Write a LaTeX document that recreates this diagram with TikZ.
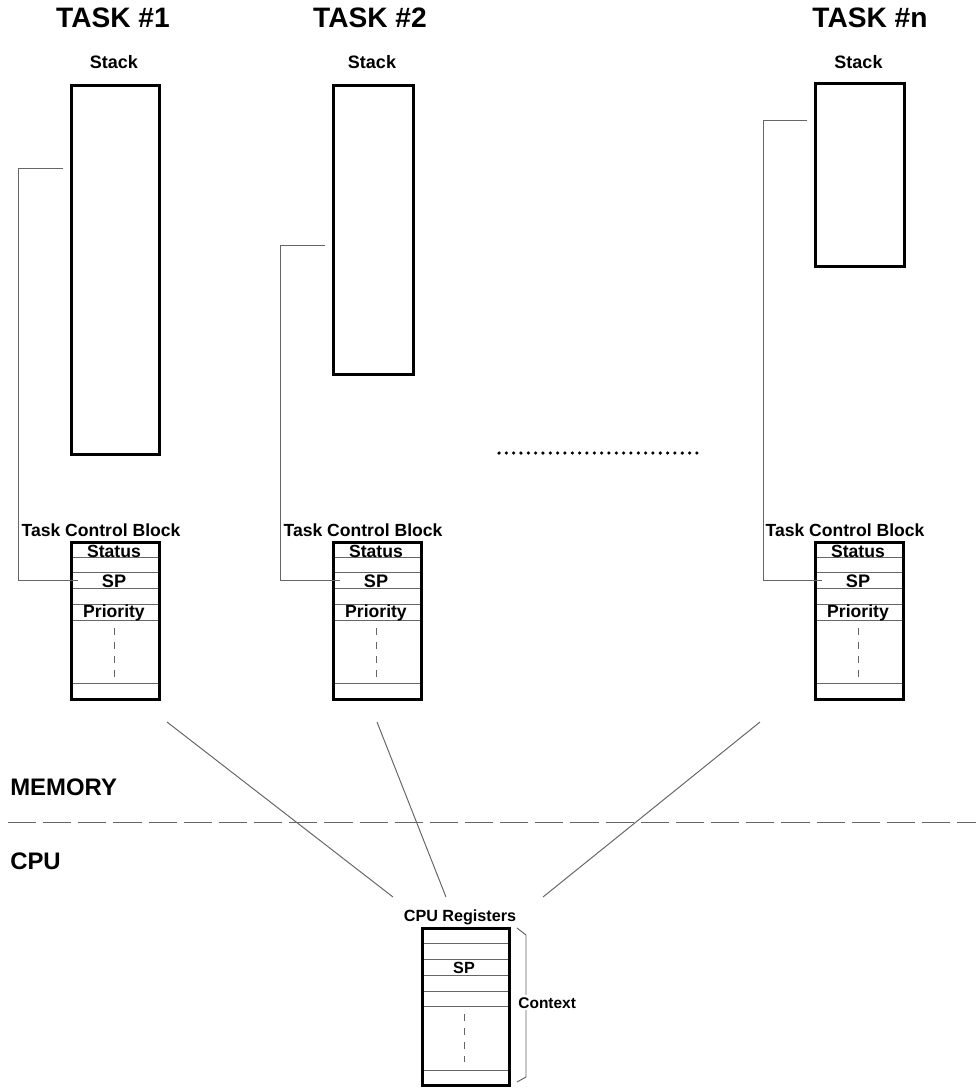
\documentclass[tikz,border=0pt]{standalone}
\usepackage{fontspec}
\setmainfont{Liberation Sans}
\usetikzlibrary{calc,positioning}
\tikzset{>=latex}
\colorlet{linegray}{black!60}
\tikzset{
  box/.style={draw, line width=2.1pt, inner sep=0pt, anchor=north west},
  rowline/.style={linegray, line width=0.6pt},
  ptr/.style={linegray, line width=0.7pt},
  dashline/.style={linegray, line width=0.7pt, dash pattern=on 5pt off 5pt},
  lbl/.style={font=\bfseries, inner sep=0pt, anchor=base},
}

\begin{document}
\begin{tikzpicture}[x=0.025cm, y=-0.025cm]

    \useasboundingbox (0,0) rectangle (976,1088);

    % tasks: name / left / stack width / stack top / stack bottom / pointer y / pointer x / title x
    \foreach \n/\x/\w/\t/\b/\py/\vx/\tx in {1/70/88/84/453/168/18/113, 2/332/80/84/373/245/280/370, n/814/89/82/265/120/763/870}{
        \node[lbl, font=\fontsize{20}{24}\bfseries\selectfont] (title\n) at (\tx,27) {TASK \#\n};
        \node[lbl, font=\fontsize{12.8}{15}\bfseries\selectfont] (stacklbl\n) at (\x+\w/2,68) {Stack};
        \node[box, minimum width=\w*0.025cm, minimum height={(\b-\t)*0.025cm}] (stack\n) at (\x,\t) {};

        % task control block
        \node[lbl, font=\fontsize{12.5}{15}\bfseries\selectfont] (tcblbl\n) at (\x+31,536) {Task Control Block};
        \foreach \r in {557,572,588,604,620,683}
            \draw[rowline] (\x,\r) -- (\x+88,\r);
        \node[box, minimum width=88*0.025cm, minimum height=157*0.025cm] (tcb\n) at (\x,541) {};
        \node[lbl, font=\fontsize{12.5}{15}\bfseries\selectfont] (status\n) at (\x+44,557) {Status};
        \node[lbl, font=\fontsize{12.9}{15}\bfseries\selectfont] (sp\n) at (\x+44,587) {SP};
        \node[lbl, font=\fontsize{12.5}{15}\bfseries\selectfont] (prio\n) at (\x+44,617) {Priority};
        \draw[dashline] (\x+44,628) -- (\x+44,677);

        % stack pointer
        \coordinate (top\n) at (\x-7,\py);
        \coordinate (spin\n) at (\x+8,580);
        \draw[ptr] (top\n) -| (\vx,580) -- (spin\n);
    }

    % dots between tasks
    \foreach \i in {0,...,27}
        \fill (499+\i*7.33,453) circle (1.25pt);

    % memory / cpu border
    \node[lbl, anchor=base west, font=\fontsize{17}{20}\bfseries\selectfont] (memory) at (10,795) {MEMORY};
    \draw[linegray, line width=0.7pt, dash pattern=on 20pt off 5pt] (8,822) -- (976,822);
    \node[lbl, anchor=base west, font=\fontsize{17}{20}\bfseries\selectfont] (cpulbl) at (10,869) {CPU};

    % cpu registers
    \node[lbl, font=\fontsize{11.5}{14}\bfseries\selectfont] (cpureg) at (460,921) {CPU Registers};
    \foreach \r in {943,959,975,991,1006,1070}
        \draw[rowline] (421,\r) -- (508,\r);
    \node[box, minimum width=87*0.025cm, minimum height=157*0.025cm] (cpu) at (421,927) {};
    \node[lbl, font=\fontsize{11.5}{14}\bfseries\selectfont] (cpusp) at (464,973) {SP};
    \draw[dashline] (464,1014) -- (464,1062);

    % context bracket
    \draw[ptr] (517,928) -- (526,935) -- (526,1077) -- (517,1082);
    \node[lbl, anchor=base west, fill=white, inner sep=1.5pt, font=\fontsize{11}{13}\bfseries\selectfont] (context) at (516,1008) {Context};

    % tcb to cpu
    \coordinate (c1) at (167,722);
    \coordinate (c2) at (377,722);
    \coordinate (c3) at (760,722);
    \coordinate (r1) at (393,897);
    \coordinate (r2) at (446,897);
    \coordinate (r3) at (543,897);
    \draw[ptr] (c1) -- (r1);
    \draw[ptr] (c2) -- (r2);
    \draw[ptr] (c3) -- (r3);

\end{tikzpicture}
\end{document}
